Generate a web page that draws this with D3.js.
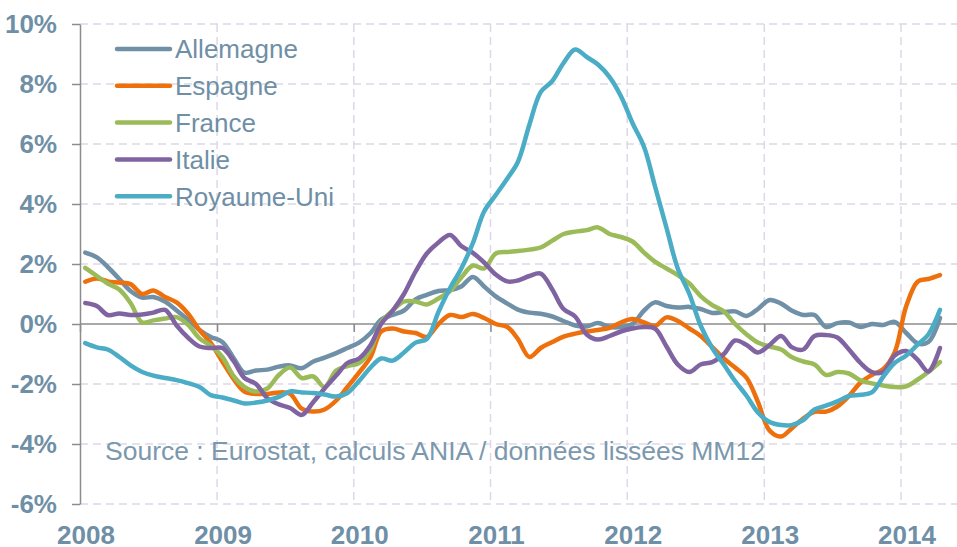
<!DOCTYPE html>
<html>
<head>
<meta charset="utf-8">
<script src="https://cdn.jsdelivr.net/npm/d3@7"></script>
<style>
  body { margin: 0; background: #fff; }
  svg { display: block; font-family: Arial, "Liberation Sans", sans-serif; }
</style>
</head>
<body>
<div id="chart"></div>
<script>
// mois : janvier 2008 -> avril 2014 (76 points, MM12)
var firstYear = 2008;
var monthCount = 76;
var yearTicks = [2008, 2009, 2010, 2011, 2012, 2013, 2014];
var yTicks = [-6, -4, -2, 0, 2, 4, 6, 8, 10];

var seriesNames = ["Allemagne", "Espagne", "France", "Italie", "Royaume-Uni"];
var seriesColors = ["#6f90a7", "#ee700c", "#9bbb59", "#8064a2", "#4bacc6"];

var allemagne = [2.38, 2.22, 1.9, 1.5, 1.1, 0.88, 0.9, 0.75, 0.45, 0.15, -0.2, -0.43,
  -0.6, -1.15, -1.62, -1.55, -1.52, -1.42, -1.38, -1.47, -1.25, -1.12, -0.97, -0.8,
  -0.62, -0.3, 0.15, 0.3, 0.45, 0.82, 0.97, 1.1, 1.13, 1.25, 1.57, 1.25,
  0.92, 0.68, 0.48, 0.38, 0.34, 0.25, 0.1, -0.05, -0.08, 0.03, -0.1, -0.1,
  0.0, 0.45, 0.72, 0.6, 0.55, 0.57, 0.5, 0.37, 0.4, 0.42, 0.27, 0.5,
  0.8, 0.68, 0.45, 0.3, 0.3, -0.1, 0.03, 0.05, -0.1, 0.0, -0.03, 0.07,
  -0.3, -0.65, -0.6, 0.2];
var espagne = [1.41, 1.52, 1.42, 1.38, 1.33, 1.0, 1.12, 0.9, 0.72, 0.35, -0.2, -0.63,
  -1.25, -1.85, -2.25, -2.33, -2.33, -2.28, -2.33, -2.82, -2.92, -2.85, -2.55, -2.1,
  -1.62, -1.1, -0.25, -0.15, -0.25, -0.3, -0.43, 0.0, 0.3, 0.23, 0.33, 0.2,
  0.0, -0.1, -0.5, -1.1, -0.8, -0.6, -0.42, -0.32, -0.25, -0.2, -0.13, 0.05,
  0.17, 0.05, -0.07, 0.22, 0.1, -0.15, -0.4, -0.77, -1.15, -1.45, -1.8, -2.6,
  -3.55, -3.75, -3.48, -3.15, -2.93, -2.92, -2.75, -2.4, -1.95, -1.7, -1.5, -0.95,
  0.6, 1.42, 1.5, 1.63];
var france = [1.87, 1.6, 1.35, 1.15, 0.7, 0.05, 0.12, 0.18, 0.23, -0.02, -0.48, -0.72,
  -1.1, -1.75, -2.1, -2.25, -2.15, -1.7, -1.45, -1.8, -1.75, -2.1, -1.55, -1.4,
  -1.3, -0.85, 0.05, 0.45, 0.75, 0.75, 0.65, 0.85, 1.1, 1.55, 1.95, 1.85,
  2.35, 2.4, 2.43, 2.48, 2.55, 2.78, 3.0, 3.08, 3.13, 3.22, 3.0, 2.9,
  2.75, 2.38, 2.08, 1.85, 1.63, 1.35, 0.93, 0.63, 0.42, 0.0, -0.35, -0.62,
  -0.75, -0.85, -1.1, -1.25, -1.35, -1.7, -1.6, -1.65, -1.88, -1.98, -2.05, -2.1,
  -2.08, -1.85, -1.6, -1.27];
var italie = [0.7, 0.6, 0.3, 0.35, 0.3, 0.32, 0.38, 0.47, -0.05, -0.45, -0.75, -0.8,
  -0.8, -1.25, -1.8, -2.0, -2.47, -2.68, -2.8, -3.03, -2.6, -2.15, -1.72, -1.3,
  -1.15, -0.7, 0.0, 0.45, 1.0, 1.75, 2.35, 2.72, 2.97, 2.6, 2.37, 2.05,
  1.65, 1.42, 1.45, 1.6, 1.68, 1.15, 0.5, 0.25, -0.35, -0.52, -0.4, -0.25,
  -0.15, -0.1, -0.15, -0.75, -1.35, -1.6, -1.35, -1.27, -1.0, -0.55, -0.7, -0.95,
  -0.7, -0.4, -0.77, -0.85, -0.4, -0.37, -0.45, -0.85, -1.3, -1.6, -1.6, -1.05,
  -0.9, -1.2, -1.58, -0.8];
var royaumeUni = [-0.64, -0.78, -0.85, -1.1, -1.38, -1.6, -1.72, -1.8, -1.87, -1.97, -2.1, -2.37,
  -2.45, -2.55, -2.65, -2.62, -2.55, -2.43, -2.25, -2.28, -2.3, -2.35, -2.42, -2.3,
  -1.9, -1.45, -1.15, -1.22, -0.95, -0.62, -0.5, 0.4, 1.2, 1.85, 2.7, 3.75,
  4.3, 4.85, 5.4, 6.65, 7.73, 8.1, 8.7, 9.15, 8.9, 8.65, 8.23, 7.6,
  6.7, 5.9, 4.6, 3.2, 1.85, 1.0, -0.05, -0.8, -1.35, -1.9, -2.4, -2.95,
  -3.27, -3.37, -3.37, -3.2, -2.85, -2.72, -2.58, -2.4, -2.36, -2.28, -1.75, -1.3,
  -1.05, -0.68, -0.35, 0.47];

var seriesValues = [allemagne, espagne, france, italie, royaumeUni];
var sourceText = "Source : Eurostat, calculs ANIA / données lissées MM12";

var width = 957;
var height = 547;
var textColor = "#6f8fa6";
var gridColor = "#ddd8e8";
var axisColor = "#8c8c8c";

// milieu de chaque mois
var months = d3.range(monthCount).map(function(i) {
  return new Date(firstYear, i, 15);
});

var x = d3.scaleTime()
  .domain([new Date(2008, 0, 1), new Date(2014, 0, 1)])
  .range([80, 901]);
var y = d3.scaleLinear()
  .domain([-6, 10])
  .range([504, 24]);

var svg = d3.select("#chart")
  .append("svg")
  .attr("width", width)
  .attr("height", height);

/* quadrillage */
var grid = svg.append("g").attr("class", "grid");
grid.selectAll(".hgrid")
  .data(yTicks.filter(function(d) { return d !== 0; }))
  .enter().append("line")
  .attr("class", "hgrid")
  .attr("x1", x.range()[0])
  .attr("x2", width)
  .attr("y1", function(d) { return y(d); })
  .attr("y2", function(d) { return y(d); })
  .attr("stroke", gridColor)
  .attr("stroke-width", 1.5)
  .attr("stroke-dasharray", "8,5");
grid.selectAll(".vgrid")
  .data(yearTicks.slice(1))
  .enter().append("line")
  .attr("class", "vgrid")
  .attr("x1", function(d) { return x(new Date(d, 0, 1)); })
  .attr("x2", function(d) { return x(new Date(d, 0, 1)); })
  .attr("y1", y(10))
  .attr("y2", y(-6))
  .attr("stroke", gridColor)
  .attr("stroke-width", 1.5)
  .attr("stroke-dasharray", "8,5");

/* axe des x : trait a 0% et traits de graduation */
var xAxisLine = svg.append("g")
  .attr("transform", "translate(0," + y(0) + ")")
  .call(d3.axisBottom(x)
    .tickValues(yearTicks.map(function(d) { return new Date(d, 0, 1); }))
    .tickSize(8)
    .tickSizeOuter(0)
    .tickFormat(""));
xAxisLine.select(".domain")
  .attr("d", "M" + x.range()[0] + ",0H" + width)
  .attr("stroke", axisColor)
  .attr("stroke-width", 1.5);
xAxisLine.selectAll(".tick line").attr("stroke", axisColor).attr("stroke-width", 1.5);

/* libelles des annees */
var xLabels = svg.append("g")
  .attr("transform", "translate(5.5,526)")
  .call(d3.axisBottom(x)
    .tickValues(yearTicks.map(function(d) { return new Date(d, 0, 1); }))
    .tickSize(0)
    .tickPadding(0)
    .tickFormat(d3.timeFormat("%Y")));
xLabels.select(".domain").remove();
xLabels.selectAll("text")
  .attr("fill", textColor)
  .attr("font-size", "26px")
  .attr("font-weight", "bold")
  .attr("font-family", "Arial, 'Liberation Sans', sans-serif");

/* axe des y */
var yAxis = svg.append("g")
  .attr("transform", "translate(80,0)")
  .call(d3.axisLeft(y)
    .tickValues(yTicks)
    .tickSize(8)
    .tickSizeOuter(0)
    .tickPadding(15)
    .tickFormat(function(d) { return d + "%"; }));
yAxis.select(".domain").attr("stroke", axisColor).attr("stroke-width", 1.5);
yAxis.selectAll(".tick line").attr("stroke", axisColor).attr("stroke-width", 1.5);
yAxis.selectAll("text")
  .attr("fill", textColor)
  .attr("font-size", "26px")
  .attr("font-weight", "bold")
  .attr("font-family", "Arial, 'Liberation Sans', sans-serif");

/* source */
svg.append("text")
  .attr("x", 105)
  .attr("y", 460)
  .attr("fill", "#7c98ad")
  .attr("font-size", "26.5px")
  .text(sourceText);

/* courbes */
var line = d3.line()
  .x(function(d) { return x(d.date); })
  .y(function(d) { return y(d.value); })
  .curve(d3.curveCatmullRom.alpha(0.5));

var series = seriesNames.map(function(name, k) {
  return {
    name: name,
    color: seriesColors[k],
    values: seriesValues[k].map(function(v, i) { return { date: months[i], value: v }; })
  };
});

svg.append("g")
  .attr("class", "g-lines")
  .selectAll("path")
  .data(series)
  .enter().append("path")
  .attr("d", function(d) { return line(d.values); })
  .attr("fill", "none")
  .attr("stroke", function(d) { return d.color; })
  .attr("stroke-width", 4.5)
  .attr("stroke-linejoin", "round")
  .attr("stroke-linecap", "round");

/* legende */
var legend = svg.append("g")
  .attr("class", "legend")
  .attr("transform", "translate(117,49)");
var legendItem = legend.selectAll(".legend-item")
  .data(series)
  .enter().append("g")
  .attr("class", "legend-item")
  .attr("transform", function(d, i) { return "translate(0," + (i * 36.8) + ")"; });
legendItem.append("line")
  .attr("x1", 0)
  .attr("x2", 53)
  .attr("stroke", function(d) { return d.color; })
  .attr("stroke-width", 4.5)
  .attr("stroke-linecap", "round");
legendItem.append("text")
  .attr("x", 58)
  .attr("dy", "0.36em")
  .attr("fill", textColor)
  .attr("font-size", "26px")
  .text(function(d) { return d.name; });
</script>
</body>
</html>
